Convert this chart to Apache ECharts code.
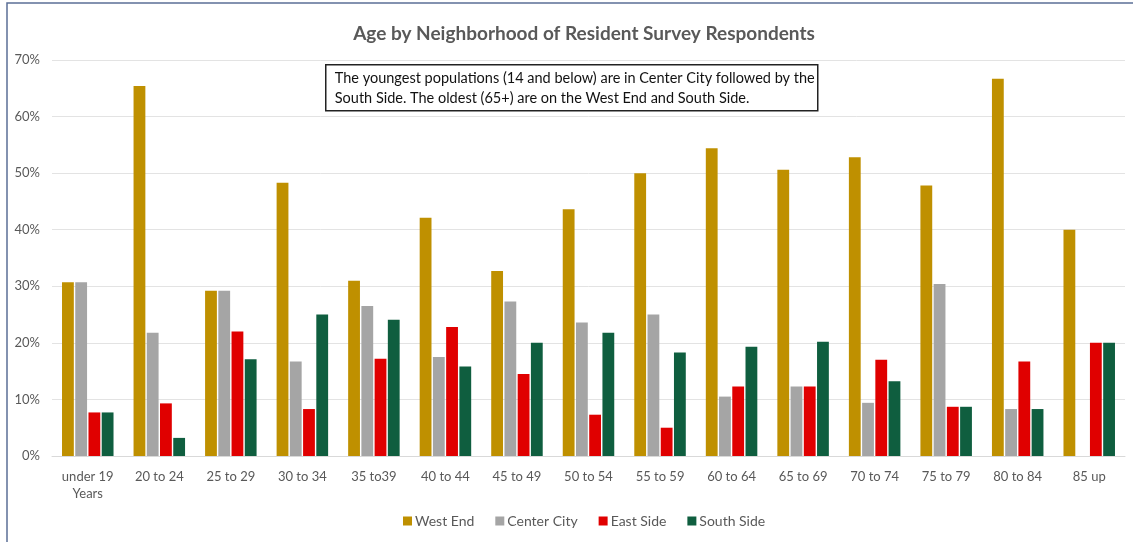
<!DOCTYPE html>
<html>
<head>
<meta charset="utf-8">
<script src="https://cdn.jsdelivr.net/npm/echarts@6/dist/echarts.min.js"></script>
<style>
  html, body { margin: 0; padding: 0; background: #fff; }
  #main { width: 1133px; height: 542px; }
</style>
</head>
<body>
<div id="main"></div>
<script>
// age groups along the x axis
let ageGroups = ['under 19\nYears', '20 to 24', '25 to 29', '30 to 34', '35 to39', '40 to 44', '45 to 49',
  '50 to 54', '55 to 59', '60 to 64', '65 to 69', '70 to 74', '75 to 79', '80 to 84', '85 up'];

// shares per neighborhood (fraction of respondents)
let westEnd    = [0.307, 0.654, 0.292, 0.483, 0.310, 0.421, 0.327, 0.436, 0.500, 0.544, 0.506, 0.528, 0.478, 0.667, 0.400];
let centerCity = [0.307, 0.218, 0.292, 0.167, 0.265, 0.175, 0.273, 0.236, 0.250, 0.105, 0.123, 0.094, 0.304, 0.083, 0];
let eastSide   = [0.077, 0.093, 0.220, 0.083, 0.172, 0.228, 0.145, 0.073, 0.050, 0.123, 0.123, 0.170, 0.087, 0.167, 0.200];
let southSide  = [0.077, 0.032, 0.171, 0.250, 0.241, 0.158, 0.200, 0.218, 0.183, 0.193, 0.202, 0.132, 0.087, 0.083, 0.200];

let seriesNames = ['West End', 'Center City', 'East Side', 'South Side'];
let seriesColors = ['#bf9000', '#a5a5a5', '#e00000', '#0f5e3f'];

let noteLine1 = 'The youngest populations (14 and below) are in Center City followed by the';
let noteLine2 = 'South Side. The oldest (65+) are on the West End and South Side.';

let font = 'Lato, "Open Sans", sans-serif';
let textGray = '#595959';

let myChart = echarts.init(document.getElementById('main'));

let seriesData = [westEnd, centerCity, eastSide, southSide];
let series = seriesNames.map(function (name, i) {
    return {
        name: name,
        type: 'bar',
        data: seriesData[i],
        barGap: '12%',
        barCategoryGap: '28%',
        itemStyle: { color: seriesColors[i] },
        emphasis: { disabled: true }
    };
});

let option = {
    animation: false,
    textStyle: { fontFamily: font },
    title: {
        text: 'Age by Neighborhood of Resident Survey Respondents',
        left: 579,
        textAlign: 'center',
        top: 19,
        textStyle: { fontFamily: font, fontSize: 19, fontWeight: 'bold', color: textGray }
    },
    legend: {
        bottom: 9,
        left: 398,
        itemWidth: 9,
        itemHeight: 9,
        itemGap: 21,
        icon: 'rect',
        textStyle: { fontFamily: font, fontSize: 14, color: textGray, padding: [0, 0, 0, -2] },
        data: seriesNames
    },
    grid: { left: 52, right: 8, top: 60, bottom: 86 },
    xAxis: {
        type: 'category',
        data: ageGroups,
        axisTick: { show: false },
        axisLine: { lineStyle: { color: '#d9d9d9' } },
        axisLabel: { fontFamily: font, fontSize: 13, color: textGray, margin: 12, lineHeight: 17, interval: 0 }
    },
    yAxis: {
        type: 'value',
        min: 0,
        max: 0.7,
        interval: 0.1,
        axisLine: { show: false },
        axisTick: { show: false },
        splitLine: { lineStyle: { color: '#e3e3e3', width: 1 } },
        axisLabel: {
            fontFamily: font, fontSize: 13, color: textGray, margin: 12,
            formatter: function (v) { return Math.round(v * 100) + '%'; }
        }
    },
    graphic: [
        {
            type: 'rect',
            shape: { x: 7, y: 3, width: 1200, height: 600 },
            style: { fill: 'none', stroke: '#5b6f96', lineWidth: 1.5 },
            silent: true
        },
        {
            type: 'group',
            left: 325,
            top: 64,
            z: 100,
            children: [
                {
                    type: 'rect',
                    shape: { x: 0, y: 0, width: 492, height: 46 },
                    style: { fill: '#fff', stroke: '#222', lineWidth: 1.5 }
                },
                {
                    type: 'text',
                    x: 9,
                    y: 4,
                    style: {
                        text: noteLine1 + '\n' + noteLine2,
                        font: '14.5px ' + font,
                        lineHeight: 20,
                        fill: '#111'
                    }
                }
            ]
        }
    ],
    series: series
};
myChart.setOption(option);
</script>
</body>
</html>
